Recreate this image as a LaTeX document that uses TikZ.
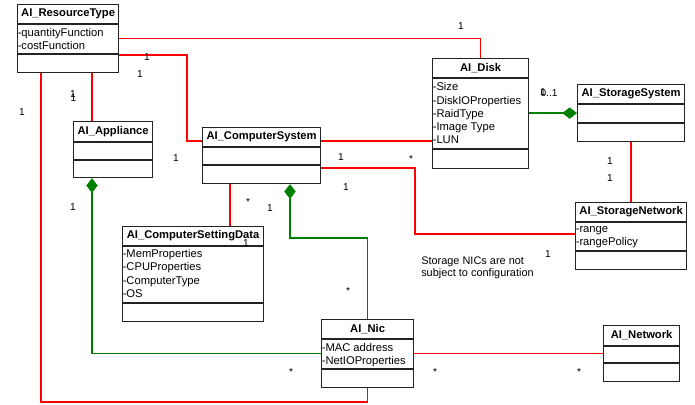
\documentclass[tikz,border=0pt]{standalone}
\usepackage{fontspec}
\setmainfont{Liberation Sans}
\usetikzlibrary{arrows.meta}

\definecolor{assocred}{RGB}{255,0,0}
\definecolor{compgreen}{RGB}{0,128,0}
\definecolor{boxline}{RGB}{35,35,35}

\tikzset{
  classbox/.style={draw=boxline, line width=0.9pt, rectangle, inner sep=0pt, anchor=north west},
  sepline/.style={draw=boxline, line width=0.9pt},
  classtitle/.style={font=\fontsize{8.4}{10}\selectfont\bfseries, inner sep=0pt},
  attr/.style={font=\fontsize{8.4}{10}\selectfont, inner sep=0pt, anchor=base west},
  note/.style={font=\fontsize{8.2}{10}\selectfont, inner sep=0pt, anchor=base west},
  mult/.style={font=\fontsize{7.6}{9}\selectfont, inner sep=0pt},
  assoc/.style={draw=assocred, line width=0.95pt},
  comp/.style={draw=compgreen, line width=0.95pt,
    -{Diamond[length=11pt,width=8.5pt,fill=compgreen,line width=0.4pt]}}
}

% UML class: name, left, top, right, bottom, title rule, operation rule, title
\newcommand\umlclass[8]{%
  \node[classbox, minimum width={(#4-#2)*0.75pt}, minimum height={(#5-#3)*0.75pt}]
    (#1) at (#2,#3) {};
  \draw[sepline] (#1.west |- 0,#6) -- (#1.east |- 0,#6);
  \draw[sepline] (#1.west |- 0,#7) -- (#1.east |- 0,#7);
  \node[classtitle] (#1-title) at (#1.north |- 0,{(#3+#6)/2}) {#8};
}

\begin{document}
\begin{tikzpicture}[x=0.75pt, y=-0.75pt]
  \fill[white] (0,0) rectangle (695,404);
  \useasboundingbox (0,0) rectangle (695,404);

  % classes
  \umlclass{rt}{17}{4}{118}{72}{24}{54}{AI\_ResourceType}
  \umlclass{app}{73}{121}{152}{177}{142}{160}{AI\_Appliance}
  \umlclass{cs}{202}{127}{320}{183}{147}{165}{AI\_ComputerSystem}
  \umlclass{csd}{122}{226}{263}{321}{246}{303}{AI\_ComputerSettingData}
  \umlclass{disk}{432}{58}{528}{168}{78}{149}{AI\_Disk}
  \umlclass{ss}{577}{84}{684}{141}{104}{123}{AI\_StorageSystem}
  \umlclass{sn}{575}{202}{686}{269}{222}{251}{AI\_StorageNetwork}
  \umlclass{nic}{321}{319}{413}{387}{339}{369}{AI\_Nic}
  \umlclass{net}{603}{325}{679}{381}{346}{363}{AI\_Network}

  % attributes
  \foreach \t [count=\i] in {-quantityFunction,-costFunction}
    \node[attr] (rt-a\i) at (17.5,{36.3+12.7*(\i-1)}) {\t};
  \foreach \t [count=\i] in {-Size,-DiskIOProperties,-RaidType,-Image Type,-LUN}
    \node[attr] (disk-a\i) at (432.5,{90.7+13.3*(\i-1)}) {\t};
  \foreach \t [count=\i] in {-MemProperties,-CPUProperties,-ComputerType,-OS}
    \node[attr] (csd-a\i) at (122.5,{257.3+13.5*(\i-1)}) {\t};
  \foreach \t [count=\i] in {-range,-rangePolicy}
    \node[attr] (sn-a\i) at (575.5,{232.5+12.7*(\i-1)}) {\t};
  \foreach \t [count=\i] in {-MAC address,-NetIOProperties}
    \node[attr] (nic-a\i) at (321.5,{351.3+13.4*(\i-1)}) {\t};

  % associations
  \draw[assoc] (rt.east) -| (disk.north);
  \draw[assoc] (rt.east |- 0,55) -- (187,55) |- (cs.west |- 0,141);
  \draw[assoc] (rt.south -| 92,0) -- (app.north -| 92,0);
  \draw[assoc] (rt.south -| 41,0) -- (41,402) -| (nic.south);
  \draw[assoc] (cs.south -| 230,0) -- (csd.north -| 230,0);
  \draw[assoc] (cs.east |- 0,141) -- (disk.west |- 0,141);
  \draw[assoc] (cs.east |- 0,168) -- (415,168) |- (sn.west |- 0,234);
  \draw[assoc] (ss.south) -- (sn.north);
  \draw[assoc] (nic.east) -- (net.west);

  % compositions
  \draw[comp] (nic.west) -| (app.south -| 92,0);
  \draw[comp] (nic.north) |- (290,238) -- (cs.south -| 290,0);
  \draw[comp] (disk.east |- ss.west) -- (ss.west);

  % multiplicities
  \node[mult] (m1) at (461,26) {1};
  \node[mult] (m2) at (147,57) {1};
  \node[mult] (m3) at (140,74) {1};
  \node[mult] (m4) at (73,94) {1};
  \node[mult] (m5) at (73.5,98.5) {1};
  \node[mult] (m6) at (22,112) {1};
  \node[mult] (m7) at (176,158) {1};
  \node[mult] (m8) at (73,207) {1};
  \node[mult] (m9) at (341,157) {1};
  \node[mult] (m10) at (411,159) {*};
  \node[mult] (m11) at (346,187) {1};
  \node[mult] (m12) at (248,202) {*};
  \node[mult] (m13) at (270,208) {1};
  \node[mult] (m14) at (246,243) {1};
  \node[mult] (m15) at (348,291) {*};
  \node[mult] (m16) at (549,93) {0..1};
  \node[mult] (m17) at (543,92) {1};
  \node[mult] (m18) at (610,161) {1};
  \node[mult] (m19) at (610,178) {1};
  \node[mult] (m20) at (548,254) {1};
  \node[mult] (m21) at (291,372) {*};
  \node[mult] (m22) at (435,372) {*};
  \node[mult] (m23) at (579,372) {*};

  % note
  \node[note] (note1) at (421,264) {Storage NICs are not};
  \node[note] (note2) at (421,276.3) {subject to configuration};
\end{tikzpicture}
\end{document}
